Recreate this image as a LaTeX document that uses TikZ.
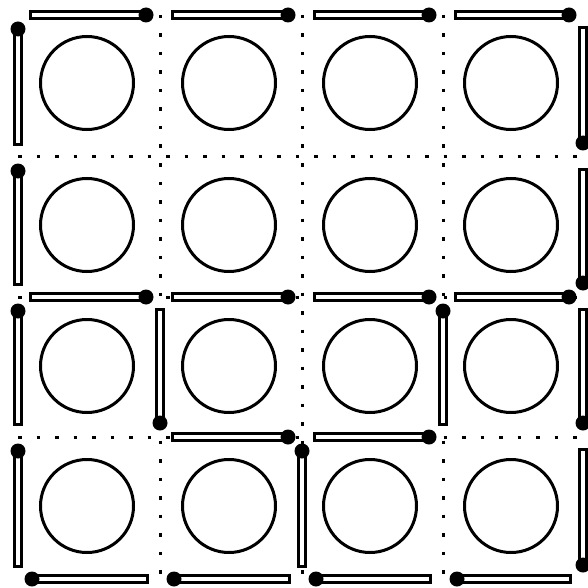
\documentclass[tikz,border=0pt]{standalone}
\usetikzlibrary{calc}
\tikzset{
  gridline/.style={line width=3pt, dash pattern=on 3.5pt off 15pt, black},
  ring/.style={line width=3pt, black},
  matchbody/.style={line width=10pt, black, shorten <=11pt, shorten >=12pt},
  matchcore/.style={line width=3.5pt, white, shorten <=14pt, shorten >=18pt},
  matchhead/.style={fill=black},
}
\newcommand\mymatch[2]{%
  \draw[matchbody] (#1) -- (#2);
  \draw[matchcore] (#1) -- (#2);
  \fill[matchhead] ($(#2)!14pt!(#1)$) circle (7.5pt);
}
\begin{document}
\begin{tikzpicture}[x=1pt,y=-1pt]
  \fill[white] (0,0) rectangle (588,588);
  \useasboundingbox (0,0) rectangle (588,588);
  % grid points
  \foreach \i/\x in {0/18,1/160,2/302,3/443,4/583}{
    \foreach \j/\y in {0/15,1/157,2/297,3/437,4/579}{
      \coordinate (g-\i-\j) at (\x,\y);
    }
  }
  % dotted inner lines
  \foreach \k in {1,2,3}{
    \draw[gridline] (g-\k-0) -- (g-\k-4);
    \draw[gridline] (g-0-\k) -- (g-4-\k);
  }
  % circles
  \foreach \i/\x in {0/87,1/229,2/370,3/511}{
    \foreach \j/\y in {0/83,1/225,2/366,3/506}{
      \draw[ring] (\x,\y) circle (46.5);
    }
  }
  % top edge, heads right
  \mymatch{g-0-0}{g-1-0}
  \mymatch{g-1-0}{g-2-0}
  \mymatch{g-2-0}{g-3-0}
  \mymatch{g-3-0}{g-4-0}
  % left edge, heads up
  \mymatch{g-0-1}{g-0-0}
  \mymatch{g-0-2}{g-0-1}
  \mymatch{g-0-3}{g-0-2}
  \mymatch{g-0-4}{g-0-3}
  % right edge, heads down
  \mymatch{g-4-0}{g-4-1}
  \mymatch{g-4-1}{g-4-2}
  \mymatch{g-4-2}{g-4-3}
  \mymatch{g-4-3}{g-4-4}
  % bottom edge, heads left
  \mymatch{g-1-4}{g-0-4}
  \mymatch{g-2-4}{g-1-4}
  \mymatch{g-3-4}{g-2-4}
  \mymatch{g-4-4}{g-3-4}
  % middle horizontal line y2, heads right
  \mymatch{g-0-2}{g-1-2}
  \mymatch{g-1-2}{g-2-2}
  \mymatch{g-2-2}{g-3-2}
  \mymatch{g-3-2}{g-4-2}
  % line y3
  \mymatch{g-1-3}{g-2-3}
  \mymatch{g-2-3}{g-3-3}
  % inner verticals
  \mymatch{g-1-2}{g-1-3}
  \mymatch{g-2-4}{g-2-3}
  \mymatch{g-3-3}{g-3-2}
\end{tikzpicture}
\end{document}
